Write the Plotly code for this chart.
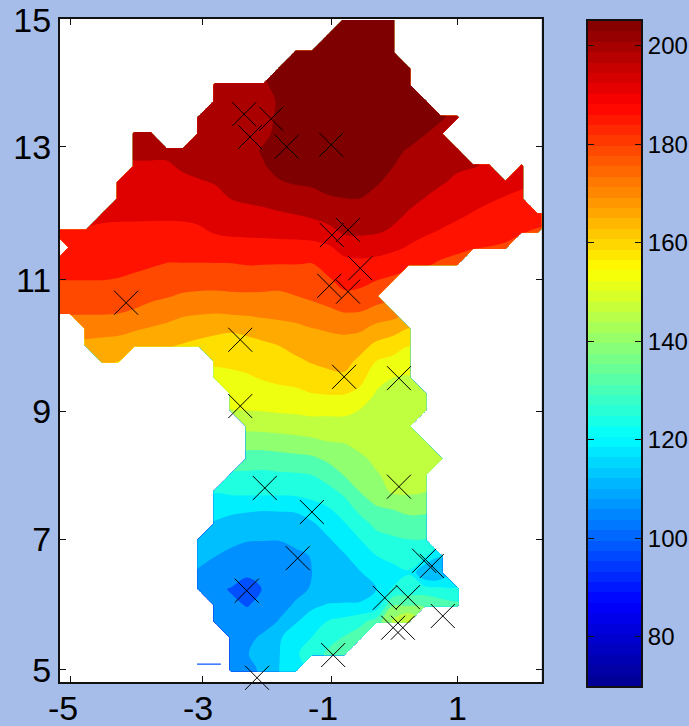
import plotly.graph_objects as go

N = None
grid_x = [-5.25,-5,-4.75,-4.5,-4.25,-4,-3.75,-3.5,-3.25,-3,-2.75,-2.5,-2.25,-2,-1.75,-1.5,
          -1.25,-1,-0.75,-0.5,-0.25,0,0.25,0.5,0.75,1,1.25,1.5,1.75,2,2.25,2.5]
grid_y = [15,14.75,14.5,14.25,14,13.75,13.5,13.25,13,12.75,12.5,12.25,12,11.75,11.5,11.25,11,
          10.75,10.5,10.25,10,9.75,9.5,9.25,9,8.75,8.5,8.25,8,7.75,7.5,7.25,7,6.75,6.5,6.25,6,
          5.75,5.5,5.25,5,4.75]
# index of the first grid_x column that each row's readings start at
first_col = [18,17,15,14,10,10,9,5,5,5,4,4,3,0,1,0,0,0,0,2,2,3,10,11,11,12,12,12,11,10,10,10,9,9,9,9,10,10,11,11,11,0]
z_rows = [
 [203,203,203,203],
 [203,203,203,203,203],
 [203,203,203,203,203,203,203],
 [202,203,203,203,203,203,203,203,203],
 [197,197,197,198,201,203,203,203,203,203,203,203,203],
 [196,196,196,197,199.5,202,203,203,203,203,203,203,203,202],
 [196,196,196,196,197,200,202,203,203,203,203,203,203,203,202,199.5,197],
 [196,196,N,N,195.5,196,196,196,197.5,200.5,202,203,203,203,203,203,203,201,199,197],
 [194,194,194,195,195.5,196,196,197,199.5,202,203,203,203,203,203,203,200,198.5,197.5,196,194.5],
 [192,192,192,193.5,194.5,195,195.5,196.5,198.5,200.5,201.5,202,202,202,202,201,199,197,195.5,194.5,193.5,193,192,N,188.5],
 [190.5,190.6,190.6,190.6,191.4,192.2,193,194.5,195,196.5,198.5,199.3,199.6,200,200.5,200.5,199.3,197.5,195.7,194.5,193.2,191.7,190.6,189.5,188.5,187.5],
 [188.9,188.9,188.9,188.9,189.4,190,191,192.8,193.6,194.1,195.2,196.1,197.2,198.5,198.8,198.8,197.4,195.7,194,192.6,190.9,189.5,188.4,187.2,186.2,185.4],
 [187.5,187.3,187.3,187.3,187.3,187.4,187.9,189,190.3,190.8,191.4,192,192.6,193.7,195.1,196.3,196.3,195.4,194.1,192.2,190,188.6,187.5,186.1,185,184,183.1,182.3,181.5],
 [186.2,186.2,186.2,185.7,185.6,185.5,185.4,185.3,185.4,185.8,187.1,187.7,187.8,188,188.4,188.6,189.3,190.9,193.8,193.9,193.4,192,189.2,187.5,186.2,184.8,183.4,182.6,181.9,180.8,180],
 [184.4,184.4,184,183.9,183.7,183.3,182.9,182.9,183.1,184,184.4,184.6,184.6,184.6,184.6,184.7,185.7,188.7,189.7,189.2,187.9,186.1,184.6,182.8,181.5,180.7,180.3,179.8],
 [182.4,182.4,182.4,182.2,182,181.6,181.1,180.3,180.3,180.3,180.3,180.3,180.8,180.7,180.6,180.6,180.3,182.7,184.8,185.1,184.5,183.4,182.3,181.3,179.7,179],
 [180.5,180.5,180.5,180.5,180.2,179.5,178.4,177.5,177,176.8,176.8,176.9,177.2,177,176.7,177.3,177.8,179.7,182.3,182.2,180.6,179.4],
 [177.7,177.7,177.7,177.7,177.4,176.7,175.6,174.7,173.6,173.1,173,173.3,173.4,173.3,173.2,174.2,175.3,176.6,179.3,178.6,176.8],
 [174.9,174.9,174.9,174.9,174.6,173.6,172.1,170.8,169.3,168.8,168.5,169,169.4,169.8,170,170.5,172,173.1,174.4,174.1,172.2,171.1],
 [170.8,170.5,170,168.8,167.7,166.6,165.3,164.4,163.5,162.8,163.5,165,166.2,166.9,168,168.7,169.2,169.2,166.2,164.5,161.8],
 [166.7,166.2,165.8,164.6,163.6,162.8,161.7,160.7,159.9,159.8,160.3,161.1,162.2,164,165.2,166,166.4,164.3,160.8,159,156.3],
 [164,162,N,N,N,N,N,156.8,157.2,157.8,158.8,159.7,161,162.5,163.5,164,160.6,155.8,154.3,152],
 [154.3,154.6,155.3,156.5,157.3,157.7,159.3,160.4,161,157.9,152,149.8,149.4],
 [152.1,152.5,153.4,154.2,154.8,155.8,156.2,156.2,154.2,149.2,148.9,148.9,148.5],
 [149.7,149.9,150.2,150.7,151,151.6,151.3,151.3,149.6,148.1,148.1,147.8,147.5],
 [145.2,145.5,145.9,146.4,147,147.4,147.4,147.4,147,147,146.8],
 [140.1,140.3,140.8,141.4,142.1,143.4,143.8,145.3,145.8,146,146,146],
 [134.6,134.4,135.1,135.8,136.5,138.6,140.7,142.7,144.7,145.2,145.2,145,145],
 [130.3,130.2,130,130.4,130.7,131.4,134,137.7,140.2,143.2,145,145,145],
 [125.7,126.6,126.9,127,127.1,127.5,128,129.5,132.7,137.8,140.2,144.7,144.7,144],
 [122,120.9,120.4,119.9,120.1,120.2,122.9,125.1,128.6,133.5,137.2,138,139.8,139.3],
 [118.4,117,116.2,116.1,116.2,116.8,118.3,121.5,124.7,129,132.9,134,134.9,135],
 [117,115.7,114.3,113.2,113.1,113.1,114.2,116.2,118.4,121.5,125.1,129,130.4,131.2,131.2],
 [114.7,113,111.5,110.8,110.8,110.8,111.8,113.2,116,118.5,121.7,125.1,127,127.8,126,119.5],
 [112.2,111,110,109,109,109.7,110.6,112.9,115,117,118.8,122.7,123,124.8,112.5,113.5],
 [109,107.8,106.5,102,107.5,109.5,111,113.5,115,116,117,118.8,125.5,127.7,127.5,126.5,125.5],
 [108.5,107.5,106.6,108,110.5,113.8,117.8,119.5,119.6,119.6,121,137,136.8,137,134.4,133],
 [109,108.5,108.3,109.5,113.5,118.5,122,125.4,127,129.5,134,144.5,150.5],
 [109.5,110.8,114.5,118.5,122.5,125.3,129,131.8,135],
 [107.5,112.8,114.5,119,124.5,128,132.5,136],
 [107.5,110,115,119.2,122],
 [],
]
band_colors = ["#00008f","#0000bf","#0000ef","#0010ff","#0030ff","#0050ff","#0090ff","#00bfff",
               "#00efff","#20ffdf","#50ffaf","#90ff70","#bfff40","#efff10","#ffdf00","#ffaa00",
               "#ff7f00","#ff4800","#ff1300","#df0000","#aa0000","#7f0000"]
band_start, band_end, band_size = 76.136, 198.856, 6.136

mark_x = [-2.30,-1.88,-2.21,-1.64,-0.95,-0.69,-0.94,-4.13,-0.98,-0.50,-0.69,-2.36,-0.75,0.10,-2.36,
          0.10,-1.98,-1.25,-1.47,-2.26,-2.10,-0.92,0.49,0.61,-0.12,0.24,0.78,0.01,0.16]
mark_y = [13.55,13.48,13.20,13.05,13.08,11.77,11.69,10.65,10.91,11.18,10.82,10.08,9.51,9.49,9.06,
          7.82,7.80,7.43,6.72,6.22,4.88,5.23,6.68,6.60,6.11,6.12,5.83,5.65,5.65]
spike_x = [-3.03,-2.66]
spike_y = [5.09,5.09]

x_tick_vals = [-5,-2.94,-0.95,1]
x_label_pos = [-5.11,-3.02,-1.08,1]
x_tick_text = ["-5","-3","-1","1"]
y_tick_vals = [15,13.05,11,8.98,7.01,5]
y_tick_text = ["15","13","11","9","7","5"]
cb_ticks = [80,100,120,140,160,180,200]
cb_edges = [70 + 135*i/64 for i in range(65)]
cb_vals = [70 + 135*(i+0.5)/64 for i in range(64)]
jet = [[0,"#00008f"],[0.125,"#0000ff"],[0.375,"#00ffff"],[0.625,"#ffff00"],[0.875,"#ff0000"],[1,"#7f0000"]]

W, H = 689, 726
BG = "#a6bce9"
LINE = "#111111"
z = [[N]*fc + list(r) + [N]*(len(grid_x)-fc-len(r)) for fc, r in zip(first_col, z_rows)]
cscale = [[i/(len(band_colors)-1), c] for i, c in enumerate(band_colors)]

fig = go.Figure()
fig.add_trace(go.Contour(
    x=grid_x, y=grid_y, z=z, connectgaps=False, autocontour=False,
    contours=dict(start=band_start, end=band_end, size=band_size, coloring="fill", showlines=False),
    line=dict(width=0), colorscale=cscale, showscale=False, hoverinfo="skip",
))
fig.add_trace(go.Scatter(x=spike_x, y=spike_y, mode="lines", line=dict(color="#0050ff", width=1.2),
                         showlegend=False, hoverinfo="skip"))
fig.add_trace(go.Scatter(x=mark_x, y=mark_y, mode="markers", cliponaxis=False, showlegend=False,
                         marker=dict(symbol="x-thin", size=24, color="black", line=dict(width=1, color="#000000"))))
fig.add_trace(go.Heatmap(x=[0,1], y=cb_edges, z=[[v] for v in cb_vals], colorscale=jet, zmin=70, zmax=205,
                         showscale=False, xaxis="x2", yaxis="y2", hoverinfo="skip"))

font_main = dict(family="Liberation Sans, Arial, sans-serif", size=34, color="#000000")
font_cb = dict(family="Liberation Sans, Arial, sans-serif", size=24, color="#000000")
fig.update_layout(
    width=W, height=H, autosize=False, margin=dict(l=0, r=0, t=0, b=0),
    paper_bgcolor=BG, plot_bgcolor="white", showlegend=False,
    xaxis=dict(domain=[60/W, 541.5/W], range=[-5.155, 2.31], tickmode="array", tickvals=x_tick_vals, automargin=False,
               ticktext=["", "", "", ""], ticks="inside", ticklen=6, tickcolor=LINE, tickwidth=1,
               showline=True, linecolor=LINE, linewidth=2, mirror="ticks", showgrid=False, zeroline=False),
    yaxis=dict(domain=[1-682/H, 1-19/H], range=[4.815, 15.015], tickmode="array", tickvals=y_tick_vals, automargin=False,
               ticktext=y_tick_text, ticks="inside", ticklen=6, tickcolor=LINE, tickwidth=1,
               showline=True, linecolor=LINE, linewidth=2, mirror="ticks", showgrid=False, zeroline=False,
               tickfont=font_main),
    xaxis2=dict(domain=[588/W, 641/W], range=[0, 1], anchor="y2", showticklabels=False, ticks="", automargin=False,
                showline=True, linecolor=LINE, linewidth=2, mirror=True, showgrid=False, zeroline=False),
    yaxis2=dict(domain=[1-686/H, 1-21/H], range=[70, 205], anchor="x2", side="right", tickmode="array", automargin=False,
                tickvals=cb_ticks, ticktext=[str(t) for t in cb_ticks], ticks="inside", ticklen=6,
                tickcolor=LINE, tickwidth=1, showline=True, linecolor=LINE, linewidth=2, mirror="ticks",
                showgrid=False, zeroline=False, tickfont=font_cb),
    annotations=[dict(x=p, y=1-708/H, xref="x", yref="paper", text=t, showarrow=False, font=font_main,
                      xanchor="center", yanchor="middle")
                 for p, t in zip(x_label_pos, x_tick_text)],
)
fig.write_html("out.html", config=dict(displayModeBar=False),
               post_script="document.body.style.margin='0';document.body.style.overflow='hidden';")
